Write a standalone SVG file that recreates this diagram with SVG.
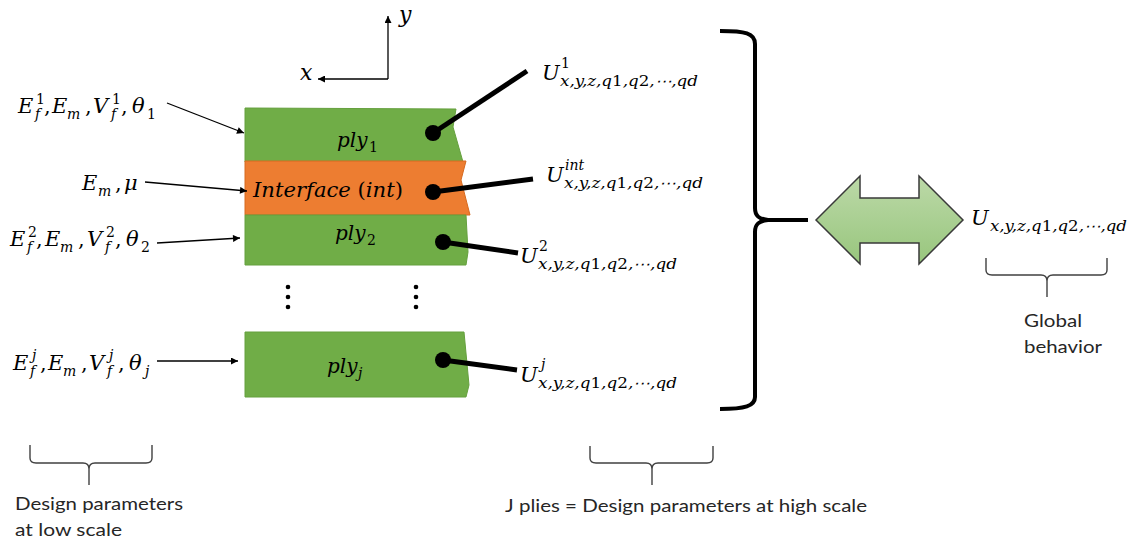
<svg xmlns="http://www.w3.org/2000/svg" width="1135" height="543" viewBox="0 0 1135 543">
<style>
.m{font-family:"DejaVu Serif","Liberation Serif",serif;font-style:italic;fill:#000}
.b{font-size:21px}
.s{font-size:14px}
.up{font-style:normal}
.t{font-family:Lato,"Open Sans","Liberation Sans",sans-serif;font-size:18px;fill:#262626}
.thin{stroke:#000;stroke-width:1.3;fill:none}
.lead{stroke:#000;stroke-width:5;fill:none}
.brace{stroke:#404040;stroke-width:1.4;fill:none}
.green{fill:#70ad47;stroke:#65a03e;stroke-width:1}
.orange{fill:#ed7d31;stroke:#d66a20;stroke-width:1}
</style>
<defs>
<marker id="ah" viewBox="0 0 10 10" refX="10" refY="5" markerWidth="8" markerHeight="7" markerUnits="userSpaceOnUse" orient="auto">
<path d="M0,0 L10,5 L0,10 Z" fill="#000"/>
</marker>
<linearGradient id="gg" x1="0" y1="0" x2="0" y2="1">
<stop offset="0" stop-color="#bcd9a8"/>
<stop offset="1" stop-color="#98c67d"/>
</linearGradient>
</defs>

<g id="axes">
<path class="thin" d="M388,79 L388,16" marker-end="url(#ah)"/>
<path class="thin" d="M388,79 L318,79" marker-end="url(#ah)"/>
<text class="m" font-size="22" x="399" y="22">y</text>
<text class="m" font-size="22" x="300" y="80">x</text>
</g>

<g id="ply1">
<path class="green" d="M245,108 L456,109 L453,127 L463,162 L245,162 Z"/>
<text class="m"><tspan x="337" y="147" font-size="20">ply</tspan><tspan class="up" x="369" y="152" font-size="14">1</tspan></text>
</g>

<g id="interface">
<path class="orange" d="M245,161 L466,161 L461,180 L470,215 L245,215 Z"/>
<text class="m" x="253" y="197" font-size="20" textLength="150" lengthAdjust="spacingAndGlyphs">Interface <tspan class="up">(</tspan>int<tspan class="up">)</tspan></text>
</g>

<g id="ply2">
<path class="green" d="M245,215 L466,215 L468,252 L466,265 L245,265 Z"/>
<text class="m"><tspan x="335" y="240" font-size="20">ply</tspan><tspan class="up" x="367" y="245" font-size="14">2</tspan></text>
</g>

<g id="ellipsis">
<circle cx="288" cy="287" r="2.3"/><circle cx="288" cy="297" r="2.3"/><circle cx="288" cy="307" r="2.3"/>
<circle cx="416" cy="287" r="2.3"/><circle cx="416" cy="297" r="2.3"/><circle cx="416" cy="307" r="2.3"/>
</g>

<g id="plyj">
<path class="green" d="M245,332 L464,332 L469,385 L466,397 L245,397 Z"/>
<text class="m"><tspan x="327" y="373" font-size="20">ply</tspan><tspan x="358" y="378" font-size="14">j</tspan></text>
</g>

<g id="label-ply1">
<text class="m b"><tspan x="18" y="113">E</tspan><tspan class="s up" x="36" y="104">1</tspan><tspan class="s" x="35" y="119">f</tspan><tspan class="up" x="44" y="113">,</tspan><tspan x="52" y="113">E</tspan><tspan class="s" x="67" y="119">m</tspan><tspan class="up" x="85" y="113">,</tspan><tspan x="93" y="113">V</tspan><tspan class="s up" x="112" y="104">1</tspan><tspan class="s" x="111" y="119">f</tspan><tspan class="up" x="121" y="113">,</tspan><tspan x="132" y="113">θ</tspan><tspan class="s up" x="147" y="119">1</tspan></text>
</g>

<g id="label-int">
<text class="m b"><tspan x="82" y="190">E</tspan><tspan class="s" x="98" y="196">m</tspan><tspan class="up" x="115" y="190">,</tspan><tspan x="124" y="190">μ</tspan></text>
</g>

<g id="label-ply2">
<text class="m b"><tspan x="10" y="246">E</tspan><tspan class="s up" x="28" y="237">2</tspan><tspan class="s" x="27" y="252">f</tspan><tspan class="up" x="36" y="246">,</tspan><tspan x="45" y="246">E</tspan><tspan class="s" x="60" y="252">m</tspan><tspan class="up" x="78" y="246">,</tspan><tspan x="87" y="246">V</tspan><tspan class="s up" x="106" y="237">2</tspan><tspan class="s" x="105" y="252">f</tspan><tspan class="up" x="115" y="246">,</tspan><tspan x="126" y="246">θ</tspan><tspan class="s up" x="141" y="252">2</tspan></text>
</g>

<g id="label-plyj">
<text class="m b"><tspan x="13" y="370">E</tspan><tspan class="s" x="32" y="360">j</tspan><tspan class="s" x="30" y="376">f</tspan><tspan class="up" x="40" y="370">,</tspan><tspan x="48" y="370">E</tspan><tspan class="s" x="63" y="376">m</tspan><tspan class="up" x="81" y="370">,</tspan><tspan x="89" y="370">V</tspan><tspan class="s" x="109" y="360">j</tspan><tspan class="s" x="107" y="376">f</tspan><tspan class="up" x="118" y="370">,</tspan><tspan x="129" y="370">θ</tspan><tspan class="s" x="145" y="376">j</tspan></text>
</g>

<g id="U1">
<text class="m b" x="542" y="80">U</text>
<text class="m s up" x="561" y="68">1</text>
<text class="m s" x="560" y="86" textLength="138" lengthAdjust="spacingAndGlyphs">x,y,z,q<tspan class="up">1</tspan>,q<tspan class="up">2</tspan>,⋯,qd</text>
</g>

<g id="Uint">
<text class="m b" x="546" y="182">U</text>
<text class="m s" x="565" y="170">int</text>
<text class="m s" x="564" y="188" textLength="139" lengthAdjust="spacingAndGlyphs">x,y,z,q<tspan class="up">1</tspan>,q<tspan class="up">2</tspan>,⋯,qd</text>
</g>

<g id="U2">
<text class="m b" x="520" y="263">U</text>
<text class="m s up" x="539" y="251">2</text>
<text class="m s" x="538" y="269" textLength="139" lengthAdjust="spacingAndGlyphs">x,y,z,q<tspan class="up">1</tspan>,q<tspan class="up">2</tspan>,⋯,qd</text>
</g>

<g id="Uj">
<text class="m b" x="520" y="382">U</text>
<text class="m s" x="541" y="369">j</text>
<text class="m s" x="538" y="388" textLength="139" lengthAdjust="spacingAndGlyphs">x,y,z,q<tspan class="up">1</tspan>,q<tspan class="up">2</tspan>,⋯,qd</text>
</g>

<g id="big-brace">
<path d="M720,31 C745,31 755,33 755,44 L755,208 C755,216 759,219 768,220 L808,220 M768,220 C759,221 755,224 755,232 L755,397 C755,406 745,409 720,409" stroke="#000" stroke-width="4" fill="none"/>
</g>

<g id="double-arrow">
<path d="M816,220 L860,176 L860,198 L919,198 L919,176 L963,220 L919,264 L919,243 L860,243 L860,264 Z" fill="url(#gg)" stroke="#3a3a3a" stroke-width="1.5" stroke-linejoin="miter"/>
</g>

<g id="U-global">
<text class="m b" x="971" y="225">U</text>
<text class="m s" x="990" y="231" textLength="137" lengthAdjust="spacingAndGlyphs">x,y,z,q<tspan class="up">1</tspan>,q<tspan class="up">2</tspan>,⋯,qd</text>
</g>

<g id="global-behavior">
<path class="brace" d="M986,258 L986,270 Q986,275 992,275 L1041,275 Q1047,275 1047,281 L1047,297 M1047,281 Q1047,275 1053,275 L1101,275 Q1107,275 1107,270 L1107,258"/>
<text class="t" x="1024" y="327" textLength="58" lengthAdjust="spacingAndGlyphs">Global</text>
<text class="t" x="1024" y="353" textLength="78" lengthAdjust="spacingAndGlyphs">behavior</text>
</g>

<g id="low-scale">
<path class="brace" d="M30,445 L30,458 Q30,463 36,463 L83,463 Q89,463 89,469 L89,485 M89,469 Q89,463 95,463 L146,463 Q152,463 152,458 L152,445"/>
<text class="t" x="15" y="510" textLength="168" lengthAdjust="spacingAndGlyphs">Design parameters</text>
<text class="t" x="15" y="536" textLength="107" lengthAdjust="spacingAndGlyphs">at low scale</text>
</g>

<g id="high-scale">
<path class="brace" d="M590,446 L590,458 Q590,463 596,463 L646,463 Q652,463 652,469 L652,485 M652,469 Q652,463 658,463 L707,463 Q713,463 713,458 L713,446"/>
<text class="t" x="505" y="512" textLength="362" lengthAdjust="spacingAndGlyphs">J plies = Design parameters at high scale</text>
</g>

<g id="connectors">
<path class="thin" d="M167,103 L244,133" marker-end="url(#ah)"/>
<path class="thin" d="M145,182 L247,191" marker-end="url(#ah)"/>
<path class="thin" d="M157,243 L240,238" marker-end="url(#ah)"/>
<path class="thin" d="M157,361 L238,361" marker-end="url(#ah)"/>
<line class="lead" x1="433" y1="133" x2="527" y2="71"/>
<circle cx="433" cy="133" r="8"/>
<line class="lead" x1="433" y1="192" x2="533" y2="179"/>
<circle cx="433" cy="192" r="8"/>
<line class="lead" x1="443" y1="242" x2="518" y2="253"/>
<circle cx="443" cy="242" r="8"/>
<line class="lead" x1="443" y1="360" x2="517" y2="370"/>
<circle cx="443" cy="360" r="8"/>
</g>
</svg>
